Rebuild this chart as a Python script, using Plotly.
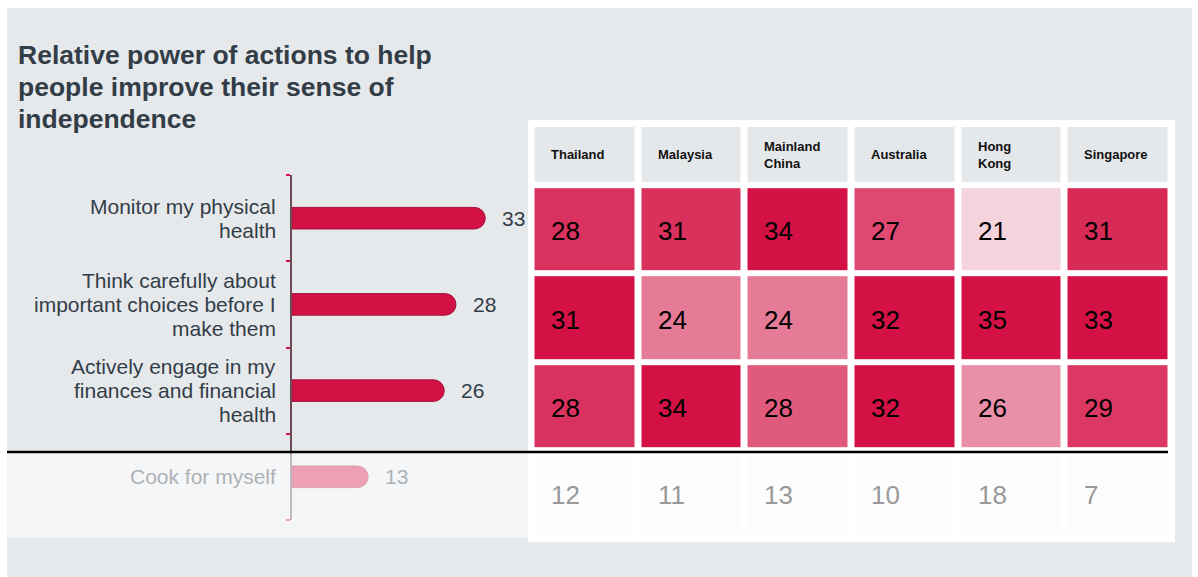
import plotly.graph_objects as go

W, H = 1198, 577

# ---- data -------------------------------------------------------------
title_lines = [
    "Relative power of actions to help",
    "people improve their sense of",
    "independence",
]
actions = [
    "Monitor my physical<br>health",
    "Think carefully about<br>important choices before I<br>make them",
    "Actively engage in my<br>finances and financial<br>health",
    "Cook for myself",
]
overall = [33, 28, 26, 13]

countries = ["Thailand", "Malaysia", "Mainland<br>China", "Australia", "Hong<br>Kong", "Singapore"]
country_scores = [
    [28, 31, 34, 27, 21, 31],
    [31, 24, 24, 32, 35, 33],
    [28, 34, 28, 32, 26, 29],
]
cook_scores = [12, 11, 13, 10, 18, 7]

# ---- style ------------------------------------------------------------
INK = "#333d47"
INK_FADED = "#adb1b5"
RED = "#d31145"
BG = "#e6e9ec"
HEADER = "#e5e8eb"
FONT = "Liberation Sans, Arial, sans-serif"

# share of each column's best score -> shade
shade_scale = [
    [0.000, "#f5d3dc"],
    [0.265, "#e67b97"],
    [0.357, "#e98fa8"],
    [0.560, "#e05a7e"],
    [0.610, "#df4870"],
    [0.700, "#db3863"],
    [0.780, "#d9305c"],
    [0.850, "#d82a57"],
    [1.000, "#d31145"],
]


def fx(p):
    return p / W


def fy(p):
    return 1 - p / H


fig = go.Figure()

# ---- horizontal bars ----------------------------------------------------
rows = list(range(len(actions)))
fig.add_trace(go.Bar(
    x=overall, y=rows, orientation="h", width=0.25,
    marker=dict(color=RED, cornerradius="50%", line=dict(width=1, color="#a3123a")),
    xaxis="x", yaxis="y", hoverinfo="skip", showlegend=False,
))

# ---- country heatmap ----------------------------------------------------
n_cols = len(countries)
col_best = [max(r[j] for r in country_scores) for j in range(n_cols)]
share = [[r[j] / col_best[j] for j in range(n_cols)] for r in country_scores]

fig.add_trace(go.Heatmap(
    z=share, x=list(range(n_cols)), y=list(range(len(country_scores))),
    zmin=0.6, zmax=1.0, colorscale=shade_scale, showscale=False,
    xgap=7, ygap=6, xaxis="x2", yaxis="y2", hoverinfo="skip",
))
header_edges = [-1.192, -0.5]
fig.add_trace(go.Heatmap(
    z=[[0] * n_cols], x=list(range(n_cols)), y=header_edges,
    colorscale=[[0, HEADER], [1, HEADER]], showscale=False,
    xgap=7, ygap=6, xaxis="x2", yaxis="y2", hoverinfo="skip",
))
cook_row = len(country_scores)
fig.add_trace(go.Heatmap(
    z=[[0] * n_cols], x=list(range(n_cols)), y=[cook_row - 0.5, cook_row + 0.5],
    colorscale=[[0, "#f9f9fc"], [1, "#f9f9fc"]], showscale=False,
    xgap=7, ygap=6, xaxis="x2", yaxis="y2", hoverinfo="skip",
))

annotations = []

# title, one line at a time
TITLE_TOP, TITLE_LEAD = 55.5, 31.5
for k, t in enumerate(title_lines):
    annotations.append(dict(
        text=f"<b>{t}</b>", xref="paper", yref="paper",
        x=fx(16), y=fy(TITLE_TOP + k * TITLE_LEAD),
        xanchor="left", yanchor="middle", align="left", showarrow=False,
        font=dict(family=FONT, size=26.5, color=INK),
    ))

# category labels, one line at a time for tight leading
LEAD = 24
for i, label in enumerate(actions):
    faded = i == len(actions) - 1
    lines = label.split("<br>")
    for k, line in enumerate(lines):
        annotations.append(dict(
            text=line, xref="x", yref="y", x=0, y=i,
            xanchor="right", yanchor="middle", xshift=-14,
            yshift=-(k - (len(lines) - 1) / 2) * LEAD, showarrow=False,
            font=dict(family=FONT, size=21, color=INK_FADED if faded else INK),
        ))
    annotations.append(dict(
        text=str(overall[i]), xref="x", yref="y", x=overall[i], y=i,
        xanchor="left", yanchor="middle", xshift=15, showarrow=False,
        font=dict(family=FONT, size=21, color=INK_FADED if faded else INK),
    ))

# heatmap header and cell values
header_mid = sum(header_edges) / 2
for j, c in enumerate(countries):
    annotations.append(dict(
        text=f"<b>{c}</b>", xref="x2", yref="y2", x=j, y=header_mid,
        xanchor="left", yanchor="middle", xshift=-36, align="left",
        showarrow=False, font=dict(family=FONT, size=13, color="#111111"),
    ))
    for i, r in enumerate(country_scores):
        annotations.append(dict(
            text=str(r[j]), xref="x2", yref="y2", x=j, y=i,
            xanchor="left", yanchor="middle", xshift=-36, yshift=-2,
            showarrow=False, font=dict(family=FONT, size=26, color="#000000"),
        ))
    annotations.append(dict(
        text=str(cook_scores[j]), xref="x2", yref="y2", x=j, y=cook_row,
        xanchor="left", yanchor="middle", xshift=-36, showarrow=False,
        font=dict(family=FONT, size=26, color="#999999"),
    ))

shapes = [
    dict(type="rect", xref="paper", yref="paper", x0=fx(7), x1=fx(1192),
         y0=fy(577), y1=fy(8), fillcolor=BG, line=dict(width=0), layer="below"),
    dict(type="rect", xref="paper", yref="paper", x0=fx(528), x1=fx(1175),
         y0=fy(542), y1=fy(120), fillcolor="#ffffff", line=dict(width=0), layer="below"),
    # washed-out band for the last row
    dict(type="rect", xref="paper", yref="paper", x0=fx(7), x1=fx(1175),
         y0=fy(538), y1=fy(453), fillcolor="rgba(255,255,255,0.6)",
         line=dict(width=0), layer="above"),
    dict(type="line", xref="paper", yref="paper", x0=fx(7), x1=fx(1168),
         y0=fy(452), y1=fy(452), line=dict(color="#000000", width=2.5), layer="above"),
]

n = len(actions)
fig.update_layout(
    width=W, height=H, autosize=False,
    margin=dict(l=0, r=0, t=0, b=0, pad=0),
    paper_bgcolor="#ffffff", plot_bgcolor="rgba(0,0,0,0)",
    showlegend=False, barmode="overlay",
    xaxis=dict(domain=[fx(292), fx(528)], range=[0, 40.3], visible=False,
               fixedrange=True, anchor="y"),
    yaxis=dict(domain=[fy(520), fy(175)], range=[n - 0.5 + 0.001, -0.5 - 0.001],
               anchor="x", showline=True, linecolor="#6d4c58", linewidth=1.5,
               ticks="outside", tickvals=[k - 0.5 for k in range(n + 1)],
               ticklen=4, tickwidth=1.5, tickcolor=RED, showticklabels=False,
               showgrid=False, zeroline=False, fixedrange=True),
    xaxis2=dict(domain=[fx(531.5), fx(1171.5)], range=[-0.5, n_cols - 0.5],
                visible=False, anchor="y2", fixedrange=True),
    yaxis2=dict(domain=[fy(542), fy(120)], range=[3.537, -1.237],
                visible=False, anchor="x2", fixedrange=True),
    annotations=annotations,
    shapes=shapes,
)

fig.write_html("out.html")
